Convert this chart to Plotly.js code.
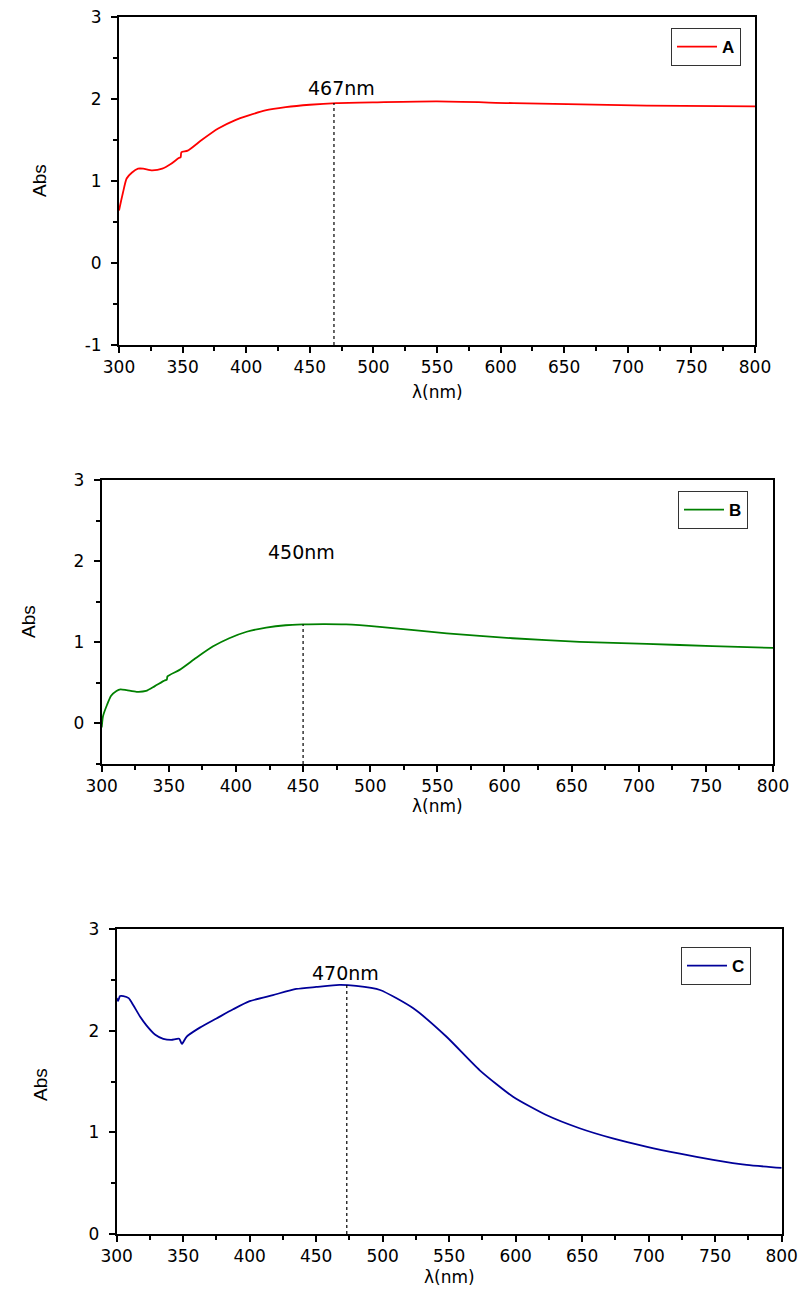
<!DOCTYPE html>
<html>
<head>
<meta charset="utf-8">
<script src="https://cdn.plot.ly/plotly-3.0.1.min.js"></script>
<style>html,body{margin:0;padding:0;background:#fff;}#chart{width:798px;height:1289px;}</style>
</head>
<body>
<div id="chart"></div>
<script>
// ---- data ----
const wlA = [300,303,306,310,315,319,326,334,341,347,348.5,349,354,365,378,391,402,415,431,450,471,503,550,610,715,800];
const absA = [0.64,0.85,1.03,1.10,1.15,1.15,1.13,1.15,1.21,1.28,1.29,1.35,1.37,1.50,1.64,1.74,1.80,1.86,1.90,1.93,1.95,1.96,1.97,1.95,1.92,1.91];

const wlB = [300,301,304,307,311,314,318.6,326,333,339.6,347,348.5,349,358,370.5,383,395,408,422.5,437,450,465,482,507,557,606,656,706,755,800];
const absB = [-0.05,0.09,0.23,0.34,0.40,0.42,0.41,0.39,0.40,0.46,0.53,0.54,0.58,0.66,0.81,0.95,1.05,1.13,1.18,1.21,1.22,1.225,1.22,1.19,1.11,1.05,1.006,0.98,0.953,0.93];

const wlC = [300,301,302.5,305,309,312.5,317.5,322.5,329,335,341,347,349,352.5,362.5,375,387.5,400,417.5,435,450,467.5,480,498,523,548,573,598,623,648,673,698,723.5,748.5,773.6,800];
const absC = [2.32,2.29,2.34,2.34,2.32,2.25,2.14,2.05,1.96,1.92,1.91,1.92,1.87,1.94,2.03,2.12,2.21,2.29,2.35,2.41,2.43,2.45,2.44,2.40,2.22,1.94,1.61,1.35,1.17,1.04,0.94,0.86,0.79,0.73,0.68,0.65];

const seriesNames = ["A", "B", "C"];
const peakLineX = [469, 450, 473];
const peakLineTop = [1.95, 1.22, 2.45];
const peakLabels = ["467nm", "450nm", "470nm"];
const peakLabelX = [475, 449, 472];
const peakLabelY = [2.13, 2.11, 2.57];
const yRanges = [[-1, 3], [-0.5, 3], [0, 3]];
const yTicks = [[-1, 0, 1, 2, 3], [0, 1, 2, 3], [0, 1, 2, 3]];
const yTickText = [["-1", "0", "1", "2", "3"], ["0", "1", "2", "3"], ["0", "1", "2", "3"]];
const xTicks = [300, 350, 400, 450, 500, 550, 600, 650, 700, 750, 800];

// ---- layout geometry (pixels -> paper) ----
const W = 798, H = 1289;
const boxes = [
  {l: 119, r: 755, t: 17, b: 345},
  {l: 101.7, r: 773, t: 480, b: 764},
  {l: 116.7, r: 781.7, t: 929, b: 1234}
];
const colors = ["#ff0000", "#008000", "#000099"];
const legendPos = [{r: 741, t: 28}, {r: 748, t: 491}, {r: 751, t: 947}];
const absTitlePos = [{x: 40, y: 181}, {x: 28, y: 622}, {x: 40, y: 1085}];
const lamTitlePos = [{x: 437, y: 392}, {x: 437, y: 806}, {x: 449, y: 1277}];

const FONT = "DejaVu Sans, Liberation Sans, Arial, sans-serif";
const px = v => v / W, py = v => 1 - v / H;

const xs = [wlA, wlB, wlC], ys = [absA, absB, absC];
const traces = [];
const layout = {
  width: W, height: H,
  margin: {l: 0, r: 0, t: 0, b: 0},
  paper_bgcolor: "#ffffff", plot_bgcolor: "#ffffff",
  font: {family: FONT, size: 17, color: "#000"},
  showlegend: true,
  shapes: [], annotations: []
};

for (let i = 0; i < 3; i++) {
  const sfx = i === 0 ? "" : String(i + 1);
  const legName = i === 0 ? "legend" : "legend" + (i + 1);
  traces.push({
    x: xs[i], y: ys[i], type: "scatter", mode: "lines",
    name: seriesNames[i],
    line: {color: colors[i], width: 1.8, shape: "spline", smoothing: 0.6},
    xaxis: "x" + sfx, yaxis: "y" + sfx,
    legend: legName
  });
  const b = boxes[i];
  const axCommon = {
    showline: true, linecolor: "#000", linewidth: 2, mirror: true,
    ticks: "outside", ticklen: 6, tickwidth: 2, tickcolor: "#000",
    showgrid: false, zeroline: false, automargin: false,
    tickfont: {family: FONT, size: 17, color: "#000"}
  };
  layout["xaxis" + sfx] = Object.assign({}, axCommon, {
    domain: [px(b.l), px(b.r)], range: [300, 800],
    anchor: "y" + sfx, tickmode: "array", tickvals: xTicks,
    minor: {ticks: "outside", dtick: 25, tick0: 300, ticklen: 4, tickwidth: 2, tickcolor: "#000", showgrid: false}
  });
  layout["yaxis" + sfx] = Object.assign({}, axCommon, {
    domain: [py(b.b), py(b.t)], range: yRanges[i],
    anchor: "x" + sfx, tickmode: "array", tickvals: yTicks[i], ticktext: yTickText[i],
    ticklabelstandoff: 6,
    minor: {ticks: "outside", dtick: 0.5, tick0: 0, ticklen: 4, tickwidth: 2, tickcolor: "#000", showgrid: false}
  });
  const lp = legendPos[i];
  layout[legName] = {
    x: px(lp.r), y: py(lp.t), xanchor: "right", yanchor: "top",
    xref: "paper", yref: "paper",
    bgcolor: "#ffffff", bordercolor: "#333", borderwidth: 1,
    font: {family: "Liberation Sans, Arial, sans-serif", size: 17, color: "#000", weight: "bold"},
    itemwidth: 40, tracegroupgap: 0
  };
  layout.shapes.push({
    type: "line", xref: "x" + sfx, yref: "y" + sfx,
    x0: peakLineX[i], x1: peakLineX[i], y0: yRanges[i][0], y1: peakLineTop[i],
    line: {color: "#000", width: 1.2, dash: "dot"}
  });
  layout.annotations.push({
    xref: "x" + sfx, yref: "y" + sfx, x: peakLabelX[i], y: peakLabelY[i],
    xanchor: "center", yanchor: "middle",
    text: peakLabels[i], showarrow: false,
    font: {family: FONT, size: 19, color: "#000"}
  });
  layout.annotations.push({
    xref: "paper", yref: "paper", x: px(absTitlePos[i].x), y: py(absTitlePos[i].y),
    xanchor: "center", yanchor: "middle",
    text: "Abs", textangle: -90, showarrow: false,
    font: {family: "Liberation Sans Narrow, Liberation Sans, Arial, sans-serif", size: 19, color: "#000"}
  });
  layout.annotations.push({
    xref: "paper", yref: "paper", x: px(lamTitlePos[i].x), y: py(lamTitlePos[i].y),
    xanchor: "center", yanchor: "middle",
    text: "λ(nm)", showarrow: false,
    font: {family: FONT, size: 17, color: "#000"}
  });
}

Plotly.newPlot("chart", traces, layout, {displayModeBar: false, staticPlot: true});
</script>
</body>
</html>
